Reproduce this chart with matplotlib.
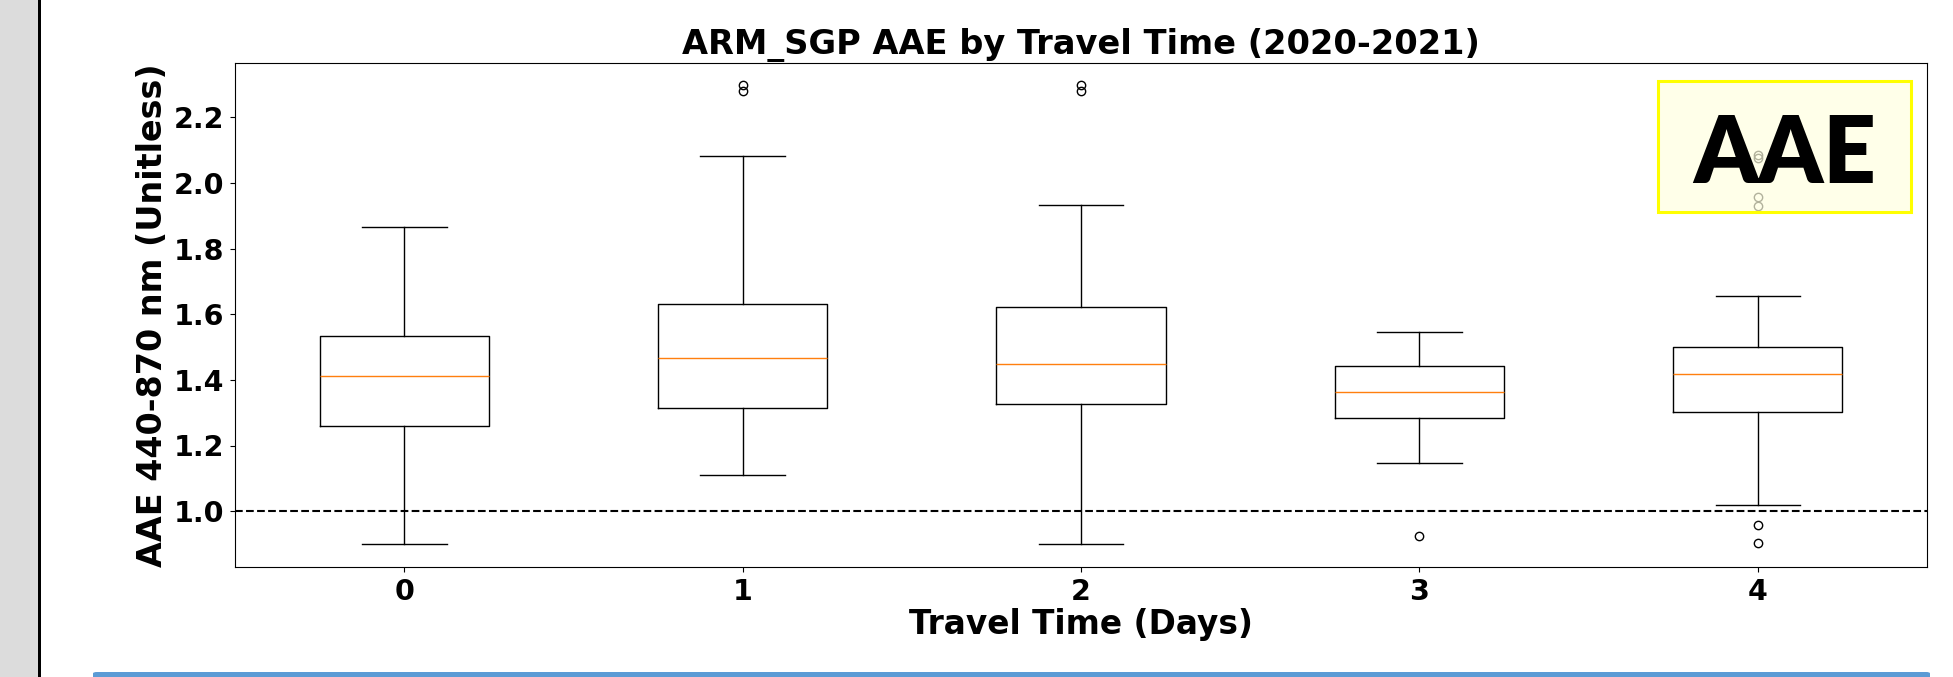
import matplotlib
matplotlib.use('Agg')
import matplotlib.pyplot as plt
from matplotlib.patches import Rectangle, FancyBboxPatch

# Box statistics (AAE per travel-time day)
days = ['0', '1', '2', '3', '4']
whislo = [0.900, 1.110, 0.900, 1.146, 1.020]
q1 = [1.259, 1.313, 1.327, 1.283, 1.303]
med = [1.413, 1.466, 1.449, 1.362, 1.419]
q3 = [1.533, 1.631, 1.622, 1.443, 1.500]
whishi = [1.865, 2.083, 1.932, 1.545, 1.656]
fliers = [
    [],
    [2.298, 2.281],
    [2.298, 2.281],
    [0.923],
    [2.085, 2.075, 1.958, 1.931, 0.958, 0.903],
]

stats = []
for i in range(len(days)):
    stats.append({'label': days[i], 'whislo': whislo[i], 'q1': q1[i], 'med': med[i],
                  'q3': q3[i], 'whishi': whishi[i], 'fliers': fliers[i]})

plt.rcParams['font.family'] = ['DejaVu Sans']
plt.rcParams['font.weight'] = 'bold'

W, H = 1953, 677
fig = plt.figure(figsize=(W / 100, H / 100), dpi=100)
ax = fig.add_axes([235 / W, 1 - 567.3 / H, 1692 / W, 504.6 / H])

ax.bxp(stats, positions=range(len(days)), widths=0.5)
ax.axhline(1.0, color='black', linestyle='--', linewidth=1.5)

ax.set_xlim(-0.5, 4.5)
ax.set_ylim(0.829, 2.366)
ax.set_yticks([1.0, 1.2, 1.4, 1.6, 1.8, 2.0, 2.2])
ax.set_xticks(range(len(days)))
ax.set_xticklabels(days)
ax.tick_params(labelsize=20.5, pad=4)
for t in ax.get_xticklabels() + ax.get_yticklabels():
    t.set_fontweight('bold')

ax.set_title('ARM_SGP AAE by Travel Time (2020-2021)', fontsize=24.2, fontweight='bold', pad=6)
ax.set_xlabel('Travel Time (Days)', fontsize=23.6, fontweight='bold', labelpad=2)
ax.set_ylabel('AAE 440-870 nm (Unitless)', fontsize=24, fontweight='bold', labelpad=4)

# "AAE" badge in the upper-right corner
ax.add_patch(Rectangle((0.841, 0.704), 0.1495, 0.26, transform=ax.transAxes,
                       facecolor=(1, 1, 0.88, 0.7), edgecolor='yellow', linewidth=2.2, zorder=5))
ax.text(0.9158, 0.7616, 'AAE', transform=ax.transAxes, ha='center', va='baseline',
        fontsize=66, fontweight='heavy', family=['Lato', 'DejaVu Sans'], zorder=6)

# page elements around the chart in the screenshot
fig.patches.append(Rectangle((0, 0), 38 / W, 1, transform=fig.transFigure,
                             facecolor='#dcdcdc', edgecolor='none'))
fig.patches.append(Rectangle((38 / W, 0), 3 / W, 1, transform=fig.transFigure,
                             facecolor='black', edgecolor='none'))
fig.patches.append(FancyBboxPatch((93 / W, -4 / H), 1837 / W, 9 / H, transform=fig.transFigure,
                                  boxstyle='round,pad=0,rounding_size=0.002',
                                  facecolor='#5b9bd5', edgecolor='none'))

fig.savefig('out.png', dpi=100)
plt.close(fig)
